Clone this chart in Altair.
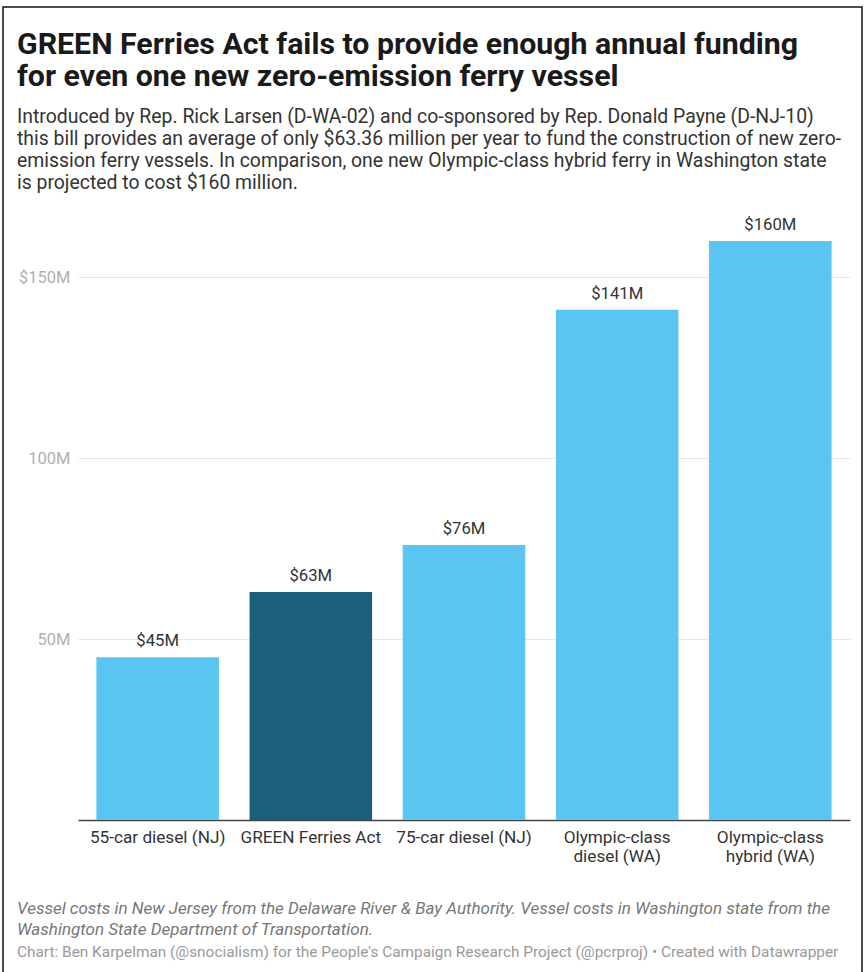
import altair as alt
import pandas as pd

categories = ["55-car diesel (NJ)", "GREEN Ferries Act", "75-car diesel (NJ)",
              "Olympic-class|diesel (WA)", "Olympic-class|hybrid (WA)"]
values = [45, 63, 76, 141, 160]
value_labels = ["$45M", "$63M", "$76M", "$141M", "$160M"]
highlight = [False, True, False, False, False]

title_text = ("GREEN Ferries Act fails to provide enough annual funding\n"
              "for even one new zero-emission ferry vessel")
subtitle_text = (
    "Introduced by Rep. Rick Larsen (D-WA-02) and co-sponsored by Rep. Donald Payne (D-NJ-10)\n"
    "this bill provides an average of only $63.36 million per year to fund the construction of new zero-\n"
    "emission ferry vessels. In comparison, one new Olympic-class hybrid ferry in Washington state\n"
    "is projected to cost $160 million."
)
notes = ("Vessel costs in New Jersey from the Delaware River & Bay Authority. Vessel costs in Washington state from the\n"
         "Washington State Department of Transportation.")
credit = ("Chart: Ben Karpelman (@snocialism) for the People's Campaign Research Project (@pcrproj) \u2022 Created with Datawrapper")

df = pd.DataFrame({"cat": categories, "value": values, "label": value_labels, "hl": highlight})

FONT = "Roboto"
W, H = 772, 579

base = alt.Chart(df)

bars = base.mark_bar().encode(
    x=alt.X("cat:N", sort=categories,
            scale=alt.Scale(paddingInner=0.2, paddingOuter=0.12),
            axis=alt.Axis(title=None, labelAngle=0, labelExpr="split(datum.label, '|')",
                          labelFont=FONT, labelFontSize=17.2, labelColor="#333",
                          labelPadding=8, labelLineHeight=19.5, ticks=False,
                          domainColor="#444", domainWidth=1.5, labelBaseline="top")),
    y=alt.Y("value:Q", scale=alt.Scale(domain=[0, 160], nice=False),
            axis=alt.Axis(title=None, values=[50, 100, 150],
                          labelExpr="datum.value == 150 ? '$150M' : datum.value + 'M'",
                          labelFont=FONT, labelFontSize=16.5, labelColor="#b0b0b0",
                          labelPadding=8, ticks=False, domain=False,
                          gridColor="#e6e6e6", gridWidth=1)),
    color=alt.Color("hl:N", scale=alt.Scale(domain=[False, True], range=["#5bc5f2", "#1b5f7c"]),
                    legend=None),
)

labels = base.mark_text(font=FONT, fontSize=16.7, color="#333", dy=-16, baseline="middle").encode(
    x=alt.X("cat:N", sort=categories),
    y="value:Q",
    text="label:N",
)

title_mark = alt.Chart(pd.DataFrame({"t": [title_text]})).mark_text(
    font=FONT, fontSize=30.3, fontWeight="bold", color="#1a1a1a", align="left",
    baseline="alphabetic", lineBreak="\n", lineHeight=32,
).encode(text="t:N", x=alt.value(-61), y=alt.value(-187))

subtitle_mark = alt.Chart(pd.DataFrame({"t": [subtitle_text]})).mark_text(
    font=FONT, fontSize=19.4, color="#333", align="left",
    baseline="alphabetic", lineBreak="\n", lineHeight=22,
).encode(text="t:N", x=alt.value(-61), y=alt.value(-118))

notes_mark = alt.Chart(pd.DataFrame({"t": [notes]})).mark_text(
    font=FONT, fontSize=17, fontStyle="italic", color="#777", align="left",
    baseline="alphabetic", lineBreak="\n", lineHeight=21,
).encode(text="t:N", x=alt.value(-61), y=alt.value(673))

credit_mark = alt.Chart(pd.DataFrame({"t": [credit]})).mark_text(
    font=FONT, fontSize=15.4, color="#999", align="left", baseline="alphabetic",
).encode(text="t:N", x=alt.value(-61), y=alt.value(716))

border = alt.Chart(pd.DataFrame({"t": [0]})).mark_rect(
    fill=None, stroke="#111", strokeWidth=1.5, clip=False
).encode(x=alt.value(-75), x2=alt.value(784), y=alt.value(-234), y2=alt.value(740))

chart = alt.layer(border, bars, labels, title_mark, subtitle_mark, notes_mark, credit_mark).properties(
    width=W, height=H,
    autosize=alt.AutoSizeParams(type="none"),
    padding={"left": 78, "top": 241, "right": 15, "bottom": 152},
).configure(background="white").configure_view(stroke=None)

chart.save("out.html", embed_options={"renderer": "svg", "actions": False})
